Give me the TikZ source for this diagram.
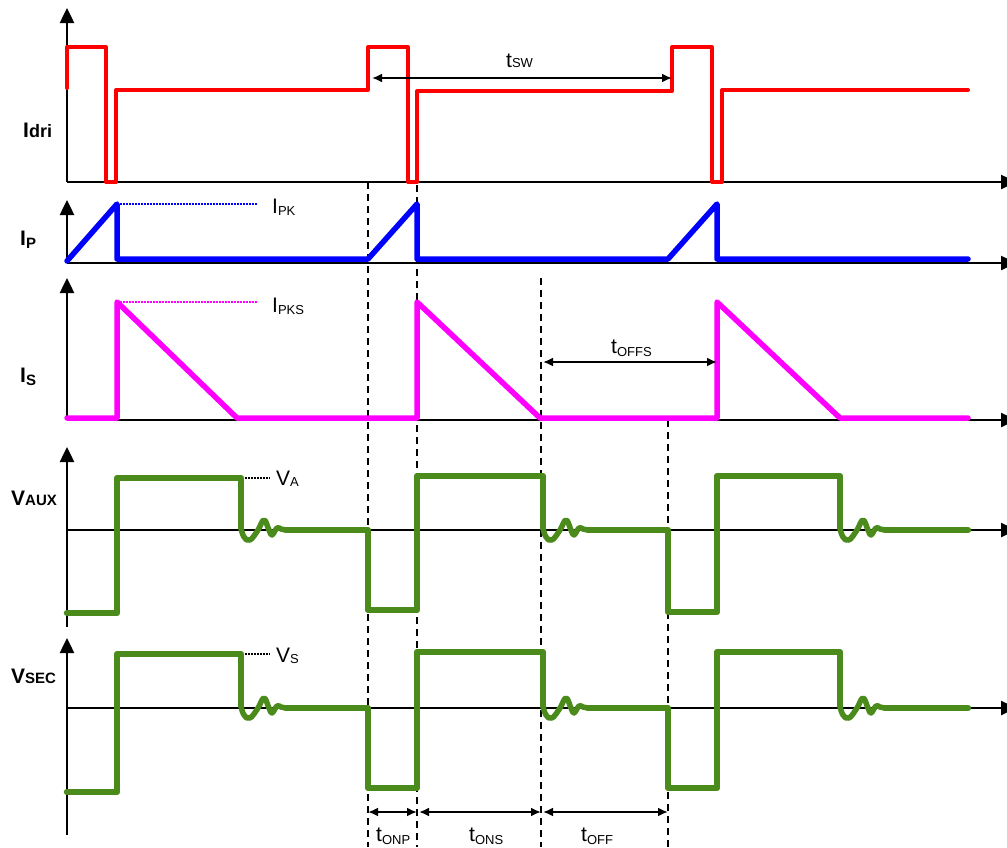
\documentclass[tikz,border=0pt]{standalone}
\usepackage{fontspec}
\setmainfont{Liberation Sans}
\usetikzlibrary{arrows.meta}
\newlength{\du}
\setlength{\du}{1pt}
\definecolor{drivecolor}{rgb}{1.000000, 0.000000, 0.000000}
\definecolor{primcolor}{rgb}{0.000000, 0.000000, 1.000000}
\definecolor{seccolor}{rgb}{1.000000, 0.000000, 1.000000}
\definecolor{auxcolor}{rgb}{0.290000, 0.545000, 0.110000}
% big bold axis names, small plain marker names
\newcommand{\axname}[4]{\bfseries{\fontsize{21}{21}\selectfont #1}\raisebox{#3}{\fontsize{#4}{#4}\selectfont #2}}
\newcommand{\mkname}[3]{{\fontsize{21}{21}\selectfont #1}\raisebox{#3}{\fontsize{13}{13}\selectfont #2}}

\begin{document}
\begin{tikzpicture}[
  axis/.style={line width=2.5pt, -{Triangle[length=15pt,width=14pt]}},
  wave/.style={line width=#1, line join=round, line cap=round},
  guide/.style={line width=2pt, dash pattern=on 7pt off 5pt},
  span/.style={line width=2pt, {Latex[length=10pt,width=9pt]}-{Latex[length=10pt,width=9pt]}},
  level/.style={line width=1.6pt, dash pattern=on 1.6pt off 1.4pt}]
\pgftransformxscale{1.000000}
\pgftransformyscale{-1.000000}
\useasboundingbox (0\du,0\du) rectangle (1007\du,847\du);
% axes
\draw[axis] (67\du,182\du)--(67\du,8\du);
\draw[axis] (67\du,182\du)--(1016\du,182\du);
\draw[axis] (67\du,263\du)--(67\du,200\du);
\draw[axis] (67\du,263\du)--(1016\du,263\du);
\draw[axis] (67\du,420\du)--(67\du,278\du);
\draw[axis] (67\du,420\du)--(1016\du,420\du);
\draw[axis] (67\du,627\du)--(67\du,447\du);
\draw[axis] (67\du,530\du)--(1016\du,530\du);
\draw[axis] (67\du,835\du)--(67\du,638\du);
\draw[axis] (67\du,708\du)--(1016\du,708\du);
% time marks
\draw[guide] (368\du,182\du)--(368\du,847\du);
\draw[guide] (417\du,185\du)--(417\du,847\du);
\draw[guide] (541\du,278\du)--(541\du,847\du);
\draw[guide] (668\du,420\du)--(668\du,847\du);
% drive
\draw[wave=4pt, drivecolor] (67\du,88\du)--(67\du,47\du)--(106\du,47\du)--(106\du,182\du)--(116\du,182\du)--(116\du,90\du)--(368\du,90\du)--(368\du,47\du)--(408\du,47\du)--(408\du,182\du)--(417\du,182\du)--(417\du,91\du)--(672\du,91\du)--(672\du,47\du)--(712\du,47\du)--(712\du,182\du)--(722\du,182\du)--(722\du,90\du)--(968\du,90\du);
\draw[span] (372\du,78\du)--(672\du,78\du);
\node[anchor=base west, inner sep=0pt] (tsw) at (506\du,67\du) {\mkname{t}{SW}{0pt}};
% primary current
\draw[level, primcolor] (117\du,204\du)--(257\du,204\du);
\draw[wave=5.5pt, primcolor] (67\du,261\du)--(117\du,204\du)--(117\du,259\du)--(368\du,259\du)--(417\du,204\du)--(417\du,259\du)--(668\du,259\du)--(717\du,204\du)--(717\du,259\du)--(968\du,259\du);
\node[anchor=base west, inner sep=0pt] (ipk) at (272\du,213\du) {\mkname{I}{PK}{-2pt}};
% secondary current
\draw[level, seccolor] (117\du,302\du)--(257\du,302\du);
\draw[wave=5.5pt, seccolor] (67\du,418\du)--(117\du,418\du)--(117\du,302\du)--(237\du,418\du)--(417\du,418\du)--(417\du,302\du)--(540\du,418\du)--(717\du,418\du)--(717\du,302\du)--(840\du,418\du)--(968\du,418\du);
\node[anchor=base west, inner sep=0pt] (ipks) at (272\du,312\du) {\mkname{I}{PKS}{-2pt}};
\draw[span] (543\du,362\du)--(717\du,362\du);
\node[anchor=base west, inner sep=0pt] (toffs) at (611\du,353\du) {\mkname{t}{OFFS}{-3pt}};
% auxiliary and secondary voltage
\draw[level] (245\du,478\du)--(270\du,478\du);
\draw[level] (245\du,654\du)--(270\du,654\du);
\draw[wave=6.5pt, auxcolor] (67\du,613\du)--(117\du,613\du)--(117\du,478\du)--(241\du,478\du)--(241\du,528\du);
\draw[wave=6.5pt, auxcolor] (286\du,530\du)--(368\du,530\du)--(368\du,610\du)--(417\du,610\du)--(417\du,476\du)--(543\du,476\du)--(543\du,528\du);
\draw[wave=6.5pt, auxcolor] (588\du,530\du)--(668\du,530\du)--(668\du,612\du)--(717\du,612\du)--(717\du,476\du)--(840\du,476\du)--(840\du,528\du);
\draw[wave=6.5pt, auxcolor] (885\du,530\du)--(968\du,530\du);
\draw[wave=6.5pt, auxcolor] (67\du,792\du)--(117\du,792\du)--(117\du,654\du)--(241\du,654\du)--(241\du,706\du);
\draw[wave=6.5pt, auxcolor] (286\du,708\du)--(368\du,708\du)--(368\du,788\du)--(417\du,788\du)--(417\du,652\du)--(543\du,652\du)--(543\du,706\du);
\draw[wave=6.5pt, auxcolor] (588\du,708\du)--(668\du,708\du)--(668\du,788\du)--(717\du,788\du)--(717\du,652\du)--(840\du,652\du)--(840\du,706\du);
\draw[wave=6.5pt, auxcolor] (885\du,708\du)--(968\du,708\du);
% ringing after each falling edge
\foreach \x/\y in {241/530, 543/530, 840/530, 241/708, 543/708, 840/708}{
  \draw[wave=5.5pt, auxcolor] plot[smooth, tension=0.7] coordinates {(\x\du,\y\du-2\du) (\x\du+3\du,\y\du+7\du) (\x\du+9\du,\y\du+10\du) (\x\du+17\du,\y\du) (\x\du+23\du,\y\du-10\du) (\x\du+28\du,\y\du) (\x\du+31\du,\y\du+5\du) (\x\du+36\du,\y\du-2\du) (\x\du+40\du,\y\du-1\du) (\x\du+45\du,\y\du)};
}
\node[anchor=base west, inner sep=0pt] (va) at (276\du,485\du) {\mkname{V}{A}{-1pt}};
\node[anchor=base west, inner sep=0pt] (vs) at (276\du,662\du) {\mkname{V}{S}{-1pt}};
% bottom spans
\draw[span] (368\du,812\du)--(417\du,812\du);
\draw[span] (419\du,812\du)--(541\du,812\du);
\draw[span] (543\du,812\du)--(668\du,812\du);
\node[anchor=base west, inner sep=0pt] (tonp) at (376\du,841\du) {\mkname{t}{ONP}{-3pt}};
\node[anchor=base west, inner sep=0pt] (tons) at (469\du,841\du) {\mkname{t}{ONS}{-3pt}};
\node[anchor=base west, inner sep=0pt] (toff) at (581\du,841\du) {\mkname{t}{OFF}{-3pt}};
% axis names
\node[anchor=base west, inner sep=0pt] (idri) at (23\du,137\du) {\axname{I}{dri}{0pt}{18}};
\node[anchor=base west, inner sep=0pt] (ip) at (20\du,245\du) {\axname{I}{P}{-3pt}{15}};
\node[anchor=base west, inner sep=0pt] (is) at (20\du,382\du) {\axname{I}{S}{-3pt}{15}};
\node[anchor=base west, inner sep=0pt] (vaux) at (11\du,505\du) {\axname{V}{AUX}{0pt}{15}};
\node[anchor=base west, inner sep=0pt] (vsec) at (11\du,683\du) {\axname{V}{SEC}{0pt}{15}};
\end{tikzpicture}
\end{document}
